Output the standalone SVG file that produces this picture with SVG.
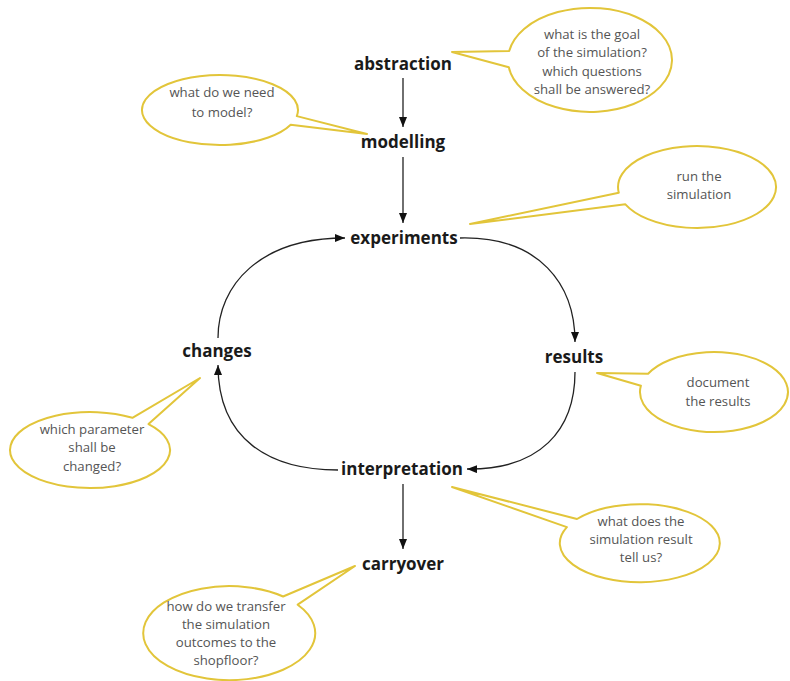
<svg xmlns="http://www.w3.org/2000/svg" width="790" height="681" viewBox="0 0 790 681">
<style>
.node{font-family:"Open Sans","Liberation Sans",sans-serif;font-weight:bold;font-size:17px;fill:#1a1a1a;text-anchor:middle}
.note{font-family:"Open Sans","Liberation Sans",sans-serif;font-size:13.2px;fill:#555;text-anchor:middle}
.bubble{fill:#fff;stroke:#e2c53a;stroke-width:2;stroke-linejoin:round}
.conn{fill:none;stroke:#222;stroke-width:1.3}
</style>
<defs>
<marker id="arr" viewBox="0 0 10 8" refX="10" refY="4" markerWidth="10" markerHeight="8" markerUnits="userSpaceOnUse" orient="auto">
<path d="M0,0 L10,4 L0,8 Z" fill="#111"/>
</marker>
</defs>
<rect width="790" height="681" fill="#fff"/>

<g id="connectors">
<path class="conn" d="M403 78 L403 127" marker-end="url(#arr)"/>
<path class="conn" d="M403 157 L403 223" marker-end="url(#arr)"/>
<path class="conn" d="M403 484 L403 549" marker-end="url(#arr)"/>
<path class="conn" d="M460 238 C540 236 575 285 575 342" marker-end="url(#arr)"/>
<path class="conn" d="M575 372 C575 430 540 470 467 469" marker-end="url(#arr)"/>
<path class="conn" d="M338 470 C270 470 218 440 218 365" marker-end="url(#arr)"/>
<path class="conn" d="M218 338 C218 285 260 238 345 238" marker-end="url(#arr)"/>
</g>

<g id="abstraction"><text class="node" x="403" y="70">abstraction</text></g>
<g id="modelling"><text class="node" x="403" y="148">modelling</text></g>
<g id="experiments"><text class="node" x="404" y="244">experiments</text></g>
<g id="changes"><text class="node" x="217" y="357">changes</text></g>
<g id="results"><text class="node" x="574" y="363">results</text></g>
<g id="interpretation"><text class="node" x="402" y="475">interpretation</text></g>
<g id="carryover"><text class="node" x="403" y="570">carryover</text></g>

<g id="note-abstraction">
<path class="bubble" d="M509.2 51 L452 52 L508.8 67.2 A82 52 0 1 0 509.2 51 Z"/>
<text class="note" x="592" y="39">what is the goal</text>
<text class="note" x="592" y="57">of the simulation?</text>
<text class="note" x="592" y="76">which questions</text>
<text class="note" x="592" y="94">shall be answered?</text>
</g>

<g id="note-modelling">
<path class="bubble" d="M296.8 116.1 L367 134 L290.7 124.8 A78 35 0 1 1 296.8 116.1 Z"/>
<text class="note" x="222" y="97">what do we need</text>
<text class="note" x="222" y="117">to model?</text>
</g>

<g id="note-experiments">
<path class="bubble" d="M618.8 192.7 L470 224 L625.4 204.3 A79 41 0 1 0 618.8 192.7 Z"/>
<text class="note" x="699" y="181">run the</text>
<text class="note" x="699" y="199">simulation</text>
</g>

<g id="note-changes">
<path class="bubble" d="M132.4 417.8 L200 378 L148.5 424.1 A80 38 0 1 1 132.4 417.8 Z"/>
<text class="note" x="92" y="434">which parameter</text>
<text class="note" x="92" y="452">shall be</text>
<text class="note" x="92" y="471">changed?</text>
</g>

<g id="note-results">
<path class="bubble" d="M648.1 373.8 L597 373 L640.9 385.7 A74 40 0 1 0 648.1 373.8 Z"/>
<text class="note" x="718" y="387">document</text>
<text class="note" x="718" y="406">the results</text>
</g>

<g id="note-interpretation">
<path class="bubble" d="M577 519 L452 487 L566.9 527.1 A80 39 0 1 0 577 519 Z"/>
<text class="note" x="641" y="526">what does the</text>
<text class="note" x="641" y="544">simulation result</text>
<text class="note" x="641" y="562">tell us?</text>
</g>

<g id="note-carryover">
<path class="bubble" d="M283.1 596.5 L355 566 L297.7 604.7 A86 47 0 1 1 283.1 596.5 Z"/>
<text class="note" x="226" y="611">how do we transfer</text>
<text class="note" x="226" y="629">the simulation</text>
<text class="note" x="226" y="647">outcomes to the</text>
<text class="note" x="226" y="665">shopfloor?</text>
</g>
</svg>
